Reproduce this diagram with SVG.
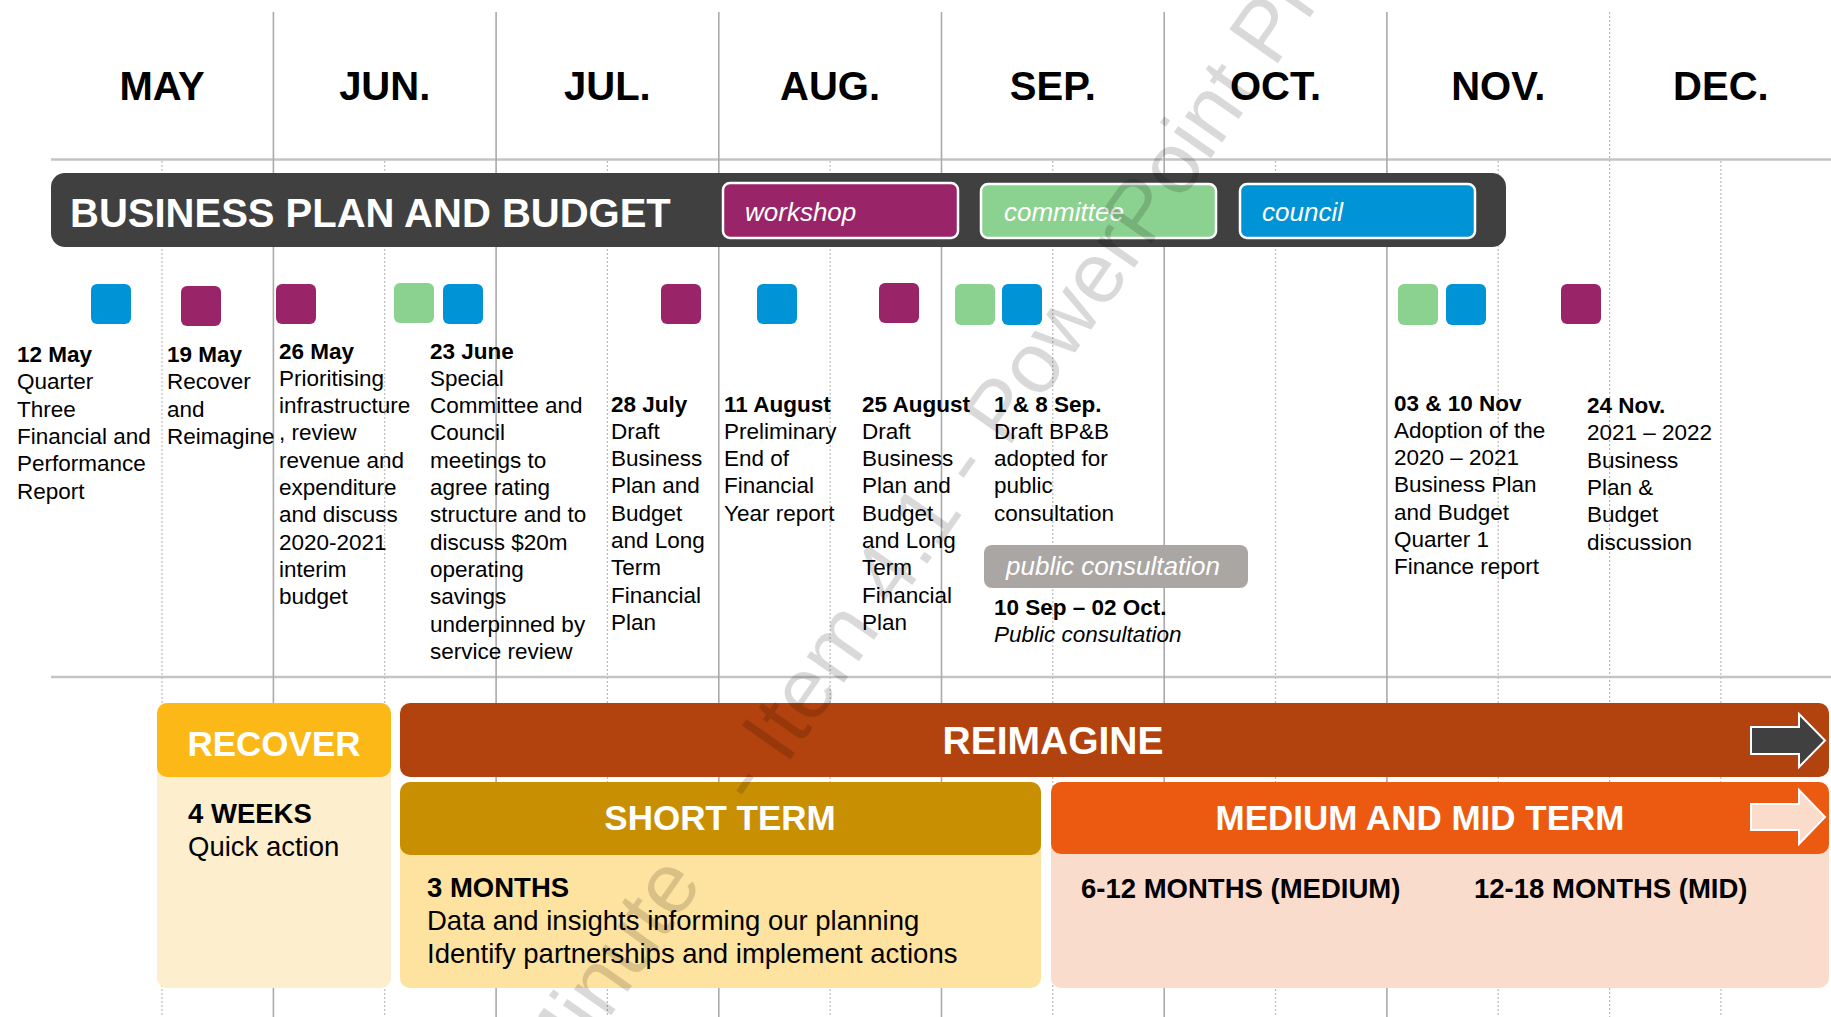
<svg xmlns="http://www.w3.org/2000/svg" width="1831" height="1017" viewBox="0 0 1831 1017">
<style>
text{font-family:"Liberation Sans",Arial,sans-serif;fill:#000}
.mon{font-size:40px;font-weight:bold;text-anchor:middle}
.ev{font-size:22.5px}
.b{font-weight:bold}
.i{font-style:italic}
.lg{font-size:26px;font-style:italic;fill:#fff}
.hd{font-size:35px;font-weight:bold;fill:#fff;text-anchor:middle}
.bt{font-size:27.5px}
.solid{stroke:#aaaaaa;stroke-width:1.6}
.dash{stroke:#bbbbbb;stroke-width:1.2;stroke-dasharray:2 2}
.hl{stroke:#c4c4c4;stroke-width:2.5}
.sq{width:40px;height:40px}
.wk{fill:#9a2468}
.cm{fill:#8bd18f}
.co{fill:#0094d6}
.wm{font-size:86px;fill:#000;fill-opacity:0.15}
</style>
<rect width="1831" height="1017" fill="#fff"/>
<g id="grid">
<line class="hl" x1="51" y1="159.5" x2="1831" y2="159.5"/>
<line class="hl" x1="51" y1="677" x2="1831" y2="677"/>
<line class="solid" x1="273.4" y1="12" x2="273.4" y2="1017"/>
<line class="solid" x1="496.1" y1="12" x2="496.1" y2="1017"/>
<line class="solid" x1="718.8" y1="12" x2="718.8" y2="1017"/>
<line class="solid" x1="941.5" y1="12" x2="941.5" y2="1017"/>
<line class="solid" x1="1164.2" y1="12" x2="1164.2" y2="1017"/>
<line class="solid" x1="1386.9" y1="12" x2="1386.9" y2="1017"/>
<line class="dash" x1="1609.6" y1="12" x2="1609.6" y2="1017"/>
<line class="dash" x1="162" y1="161" x2="162" y2="1017"/>
<line class="dash" x1="384.7" y1="161" x2="384.7" y2="1017"/>
<line class="dash" x1="607.4" y1="161" x2="607.4" y2="1017"/>
<line class="dash" x1="830.1" y1="161" x2="830.1" y2="1017"/>
<line class="dash" x1="1052.8" y1="161" x2="1052.8" y2="1017"/>
<line class="dash" x1="1275.5" y1="161" x2="1275.5" y2="1017"/>
<line class="dash" x1="1498.2" y1="161" x2="1498.2" y2="1017"/>
<line class="dash" x1="1720.9" y1="161" x2="1720.9" y2="1017"/>
</g>
<g id="months">
<text class="mon" x="162" y="100">MAY</text>
<text class="mon" x="384.7" y="100">JUN.</text>
<text class="mon" x="607.4" y="100">JUL.</text>
<text class="mon" x="830.1" y="100">AUG.</text>
<text class="mon" x="1052.8" y="100">SEP.</text>
<text class="mon" x="1275.5" y="100">OCT.</text>
<text class="mon" x="1498.2" y="100">NOV.</text>
<text class="mon" x="1720.9" y="100">DEC.</text>
</g>
<g id="bpb">
<rect x="51" y="173" width="1455" height="74" rx="14" fill="#404040"/>
<text x="70" y="227" style="font-size:40px;font-weight:bold;fill:#fff">BUSINESS PLAN AND BUDGET</text>
</g>
<g id="legend-workshop">
<rect x="723" y="183" width="235" height="55" rx="7" class="wk" stroke="#fff" stroke-width="2.5"/>
<text class="lg" x="745" y="220.5">workshop</text>
</g>
<g id="legend-committee">
<rect x="981" y="184" width="235" height="54" rx="7" class="cm" stroke="#fff" stroke-width="2.5"/>
<text class="lg" x="1004" y="220.5">committee</text>
</g>
<g id="legend-council">
<rect x="1240" y="184" width="235" height="54" rx="7" class="co" stroke="#fff" stroke-width="2.5"/>
<text class="lg" x="1262" y="220.5">council</text>
</g>
<g id="ev-12may">
<rect x="91" y="284" width="40" height="40" rx="6" class="co"/>
<text class="ev" x="17" y="362"><tspan class="b">12 May</tspan><tspan x="17" dy="27.3">Quarter</tspan><tspan x="17" dy="27.3">Three</tspan><tspan x="17" dy="27.3">Financial and</tspan><tspan x="17" dy="27.3">Performance</tspan><tspan x="17" dy="27.3">Report</tspan></text>
</g>
<g id="ev-19may">
<rect x="181" y="286" width="40" height="40" rx="6" class="wk"/>
<text class="ev" x="167" y="362"><tspan class="b">19 May</tspan><tspan x="167" dy="27.3">Recover</tspan><tspan x="167" dy="27.3">and</tspan><tspan x="167" dy="27.3">Reimagine</tspan></text>
</g>
<g id="ev-26may">
<rect x="276" y="284" width="40" height="40" rx="6" class="wk"/>
<text class="ev" x="279" y="358.5"><tspan class="b">26 May</tspan><tspan x="279" dy="27.3">Prioritising</tspan><tspan x="279" dy="27.3">infrastructure</tspan><tspan x="279" dy="27.3">, review</tspan><tspan x="279" dy="27.3">revenue and</tspan><tspan x="279" dy="27.3">expenditure</tspan><tspan x="279" dy="27.3">and discuss</tspan><tspan x="279" dy="27.3">2020-2021</tspan><tspan x="279" dy="27.3">interim</tspan><tspan x="279" dy="27.3">budget</tspan></text>
</g>
<g id="ev-23june">
<rect x="394" y="283" width="40" height="40" rx="6" class="cm"/>
<rect x="443" y="284" width="40" height="40" rx="6" class="co"/>
<text class="ev" x="430" y="358.5"><tspan class="b">23 June</tspan><tspan x="430" dy="27.3">Special</tspan><tspan x="430" dy="27.3">Committee and</tspan><tspan x="430" dy="27.3">Council</tspan><tspan x="430" dy="27.3">meetings to</tspan><tspan x="430" dy="27.3">agree rating</tspan><tspan x="430" dy="27.3">structure and to</tspan><tspan x="430" dy="27.3">discuss $20m</tspan><tspan x="430" dy="27.3">operating</tspan><tspan x="430" dy="27.3">savings</tspan><tspan x="430" dy="27.3">underpinned by</tspan><tspan x="430" dy="27.3">service review</tspan></text>
</g>
<g id="ev-28july">
<rect x="661" y="284" width="40" height="40" rx="6" class="wk"/>
<text class="ev" x="611" y="411.5"><tspan class="b">28 July</tspan><tspan x="611" dy="27.3">Draft</tspan><tspan x="611" dy="27.3">Business</tspan><tspan x="611" dy="27.3">Plan and</tspan><tspan x="611" dy="27.3">Budget</tspan><tspan x="611" dy="27.3">and Long</tspan><tspan x="611" dy="27.3">Term</tspan><tspan x="611" dy="27.3">Financial</tspan><tspan x="611" dy="27.3">Plan</tspan></text>
</g>
<g id="ev-11aug">
<rect x="757" y="284" width="40" height="40" rx="6" class="co"/>
<text class="ev" x="724" y="411.5"><tspan class="b">11 August</tspan><tspan x="724" dy="27.3">Preliminary</tspan><tspan x="724" dy="27.3">End of</tspan><tspan x="724" dy="27.3">Financial</tspan><tspan x="724" dy="27.3">Year report</tspan></text>
</g>
<g id="ev-25aug">
<rect x="879" y="283" width="40" height="40" rx="6" class="wk"/>
<text class="ev" x="862" y="411.5"><tspan class="b">25 August</tspan><tspan x="862" dy="27.3">Draft</tspan><tspan x="862" dy="27.3">Business</tspan><tspan x="862" dy="27.3">Plan and</tspan><tspan x="862" dy="27.3">Budget</tspan><tspan x="862" dy="27.3">and Long</tspan><tspan x="862" dy="27.3">Term</tspan><tspan x="862" dy="27.3">Financial</tspan><tspan x="862" dy="27.3">Plan</tspan></text>
</g>
<g id="ev-1sep">
<rect x="955" y="284" width="40" height="41" rx="6" class="cm"/>
<rect x="1002" y="284" width="40" height="41" rx="6" class="co"/>
<text class="ev" x="994" y="411.5"><tspan class="b">1 &amp; 8 Sep.</tspan><tspan x="994" dy="27.3">Draft BP&amp;B</tspan><tspan x="994" dy="27.3">adopted for</tspan><tspan x="994" dy="27.3">public</tspan><tspan x="994" dy="27.3">consultation</tspan></text>
</g>
<g id="ev-publicconsult">
<rect x="984" y="545" width="264" height="43" rx="8" fill="#aaa6a4"/>
<text class="lg" x="1006" y="575">public consultation</text>
<text class="ev b" x="994" y="615">10 Sep – 02 Oct.</text>
<text class="ev i" x="994" y="642">Public consultation</text>
</g>
<g id="ev-nov">
<rect x="1398" y="284" width="40" height="41" rx="6" class="cm"/>
<rect x="1446" y="284" width="40" height="41" rx="6" class="co"/>
<text class="ev" x="1394" y="410.5"><tspan class="b">03 &amp; 10 Nov</tspan><tspan x="1394" dy="27.3">Adoption of the</tspan><tspan x="1394" dy="27.3">2020 – 2021</tspan><tspan x="1394" dy="27.3">Business Plan</tspan><tspan x="1394" dy="27.3">and Budget</tspan><tspan x="1394" dy="27.3">Quarter 1</tspan><tspan x="1394" dy="27.3">Finance report</tspan></text>
</g>
<g id="ev-24nov">
<rect x="1561" y="284" width="40" height="40" rx="6" class="wk"/>
<text class="ev" x="1587" y="413"><tspan class="b">24 Nov.</tspan><tspan x="1587" dy="27.3">2021 – 2022</tspan><tspan x="1587" dy="27.3">Business</tspan><tspan x="1587" dy="27.3">Plan &amp;</tspan><tspan x="1587" dy="27.3">Budget</tspan><tspan x="1587" dy="27.3">discussion</tspan></text>
</g>
<g id="recover">
<rect x="157" y="703" width="234" height="285" rx="10" fill="#fdefcd"/>
<rect x="157" y="703" width="234" height="74" rx="10" fill="#fbb817"/>
<text class="hd" x="274" y="756">RECOVER</text>
<text class="bt b" x="188" y="823">4 WEEKS</text>
<text class="bt" x="188" y="856">Quick action</text>
</g>
<g id="reimagine">
<rect x="400" y="703" width="1429" height="74" rx="10" fill="#b2420e"/>
<text x="1053" y="754" style="font-size:39px;font-weight:bold;fill:#fff;text-anchor:middle">REIMAGINE</text>
<path d="M1751,727H1799V714L1825,740.5L1799,767V754H1751Z" fill="#404040" stroke="#fff" stroke-width="2"/>
</g>
<g id="shortterm">
<rect x="400" y="782" width="641" height="206" rx="10" fill="#fee29f"/>
<rect x="400" y="782" width="641" height="73" rx="10" fill="#c98f02"/>
<text class="hd" x="720" y="830">SHORT TERM</text>
<text class="bt b" x="427" y="897">3 MONTHS</text>
<text class="bt" x="427" y="930">Data and insights informing our planning</text>
<text class="bt" x="427" y="963">Identify partnerships and implement actions</text>
</g>
<g id="mediumterm">
<rect x="1051" y="782" width="778" height="206" rx="10" fill="#fadccc"/>
<rect x="1051" y="782" width="778" height="72" rx="10" fill="#ec5a12"/>
<text class="hd" x="1420" y="830">MEDIUM AND MID TERM</text>
<path d="M1751,804H1799V790L1825,817L1799,844V830H1751Z" fill="#fbdccb" stroke="#fff" stroke-width="2"/>
<text class="bt b" x="1081" y="898">6-12 MONTHS (MEDIUM)</text>
<text class="bt b" x="1474" y="898">12-18 MONTHS (MID)</text>
</g>
<text class="wm" transform="translate(985.8,480.2) rotate(-55)"><tspan x="-750" y="0">Minute</tspan><tspan x="-401.5" y="0">- Item 4.1 - PowerPoint Pr</tspan></text>
</svg>
